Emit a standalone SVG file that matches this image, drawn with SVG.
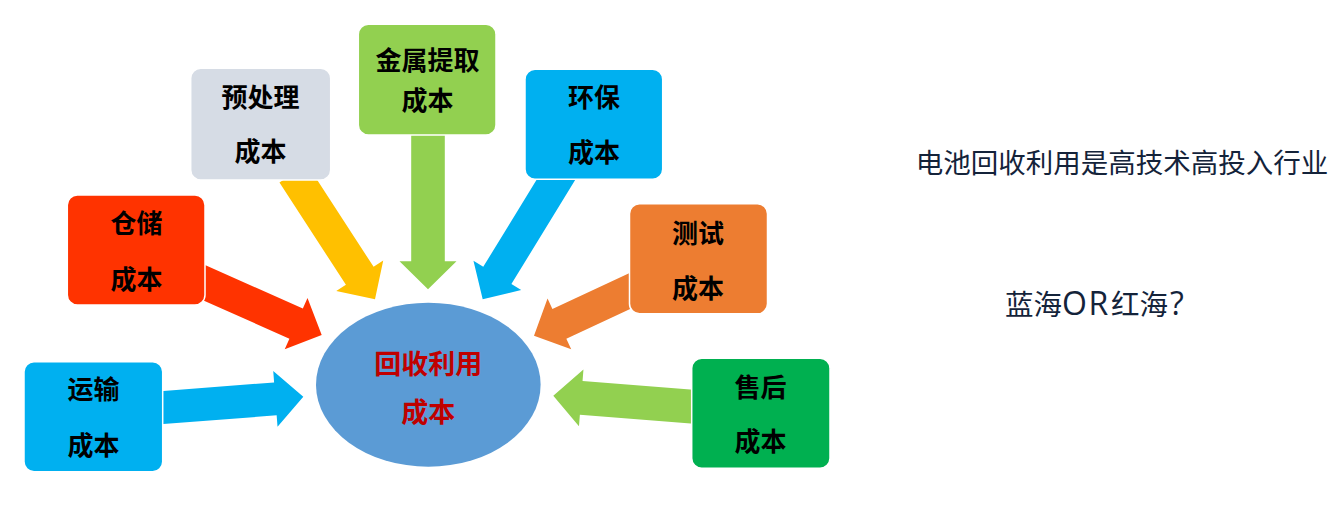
<svg xmlns="http://www.w3.org/2000/svg" width="1340" height="523" viewBox="0 0 1340 523">
<style>
.box{stroke:#ffffff;stroke-width:1.5}
.lbl{font-family:"Noto Sans CJK SC","Noto Sans",sans-serif;font-weight:bold;font-size:26px;fill:#000000;text-anchor:middle}
.ctr{font-family:"Noto Sans CJK SC","Noto Sans",sans-serif;font-weight:bold;font-size:27px;fill:#C00000;text-anchor:middle}
.side{font-family:"Noto Sans CJK SC","Noto Sans",sans-serif;font-size:27.5px;fill:#14233A}
.lat{font-family:"Open Sans","Noto Sans CJK SC",sans-serif;font-size:32px}
</style>
<rect width="1340" height="523" fill="#ffffff"/>
<g id="connectors">
  <polygon fill="#FF3300" transform="translate(321.7,335) rotate(24)" points="-140,-16.5 -28,-16.5 -28,-28 0,0 -28,28 -28,16.5 -140,16.5"/>
  <polygon fill="#00B0F0" transform="translate(303.3,396.7) rotate(-4.4)" points="-155,-16.5 -28,-16.5 -28,-28 0,0 -28,28 -28,16.5 -155,16.5"/>
  <polygon fill="#FFC000" transform="translate(375,299.3) rotate(57)" points="-150,-16.5 -28,-16.5 -28,-28 0,0 -28,28 -28,16.5 -150,16.5"/>
  <polygon fill="#92D050" transform="translate(428,289.3) rotate(90)" points="-160,-16.8 -28,-16.8 -28,-28.5 0,0 -28,28.5 -28,16.8 -160,16.8"/>
  <polygon fill="#00B0F0" transform="translate(482.7,299.3) rotate(121.5)" points="-150,-16.5 -28,-16.5 -28,-28 0,0 -28,28 -28,16.5 -150,16.5"/>
  <polygon fill="#ED7D31" transform="translate(534,335.7) rotate(155)" points="-125,-16.5 -28,-16.5 -28,-28 0,0 -28,28 -28,16.5 -125,16.5"/>
  <polygon fill="#92D050" transform="translate(553.3,395.7) rotate(184.5)" points="-155,-17 -28,-17 -28,-28.5 0,0 -28,28.5 -28,17 -155,17"/>
</g>
<g id="node-center">
  <ellipse cx="428.3" cy="384.7" rx="112.3" ry="82" fill="#5B9BD5"/>
  <text class="ctr" x="428.3" y="374">回收利用</text>
  <text class="ctr" x="428.3" y="421.5">成本</text>
</g>
<g id="node-cangchu">
  <rect class="box" x="67.3" y="195" width="137.7" height="110" rx="10" fill="#FF3300"/>
  <text class="lbl" x="136.5" y="232.8">仓储</text>
  <text class="lbl" x="136.5" y="288.8">成本</text>
</g>
<g id="node-yunshu">
  <rect class="box" x="24" y="361.7" width="138.7" height="110" rx="10" fill="#00B0F0"/>
  <text class="lbl" x="93.5" y="398.8">运输</text>
  <text class="lbl" x="93.5" y="454.5">成本</text>
</g>
<g id="node-yuchuli">
  <rect class="box" x="190.7" y="68.3" width="140" height="111.7" rx="10" fill="#D6DCE5"/>
  <text class="lbl" x="260.5" y="106.8">预处理</text>
  <text class="lbl" x="260.5" y="161.2">成本</text>
</g>
<g id="node-jinshu">
  <rect class="box" x="358.3" y="24.3" width="137.7" height="110.7" rx="10" fill="#92D050"/>
  <text class="lbl" x="427.5" y="69.5">金属提取</text>
  <text class="lbl" x="427.5" y="109.5">成本</text>
</g>
<g id="node-huanbao">
  <rect class="box" x="525" y="69.3" width="137.7" height="110" rx="10" fill="#00B0F0"/>
  <text class="lbl" x="594" y="106.8">环保</text>
  <text class="lbl" x="594" y="161.5">成本</text>
</g>
<g id="node-ceshi">
  <rect class="box" x="629.5" y="203.8" width="138" height="110" rx="10" fill="#ED7D31"/>
  <text class="lbl" x="698" y="242.8">测试</text>
  <text class="lbl" x="698" y="297.8">成本</text>
</g>
<g id="node-shouhou">
  <rect class="box" x="691.7" y="358.3" width="138.3" height="110" rx="10" fill="#00B050"/>
  <text class="lbl" x="760.5" y="396.8">售后</text>
  <text class="lbl" x="760.5" y="451.2">成本</text>
</g>
<g id="side-text">
  <text class="side" x="1122" y="172.5" text-anchor="middle">电池回收利用是高技术高投入行业</text>
  <text class="side" y="315"><tspan x="1005" font-size="28.5">蓝海</tspan><tspan x="1062" class="lat" letter-spacing="1.5">OR</tspan><tspan x="1111" font-size="28.5">红海</tspan><tspan x="1170" class="lat">?</tspan></text>
</g>
</svg>
